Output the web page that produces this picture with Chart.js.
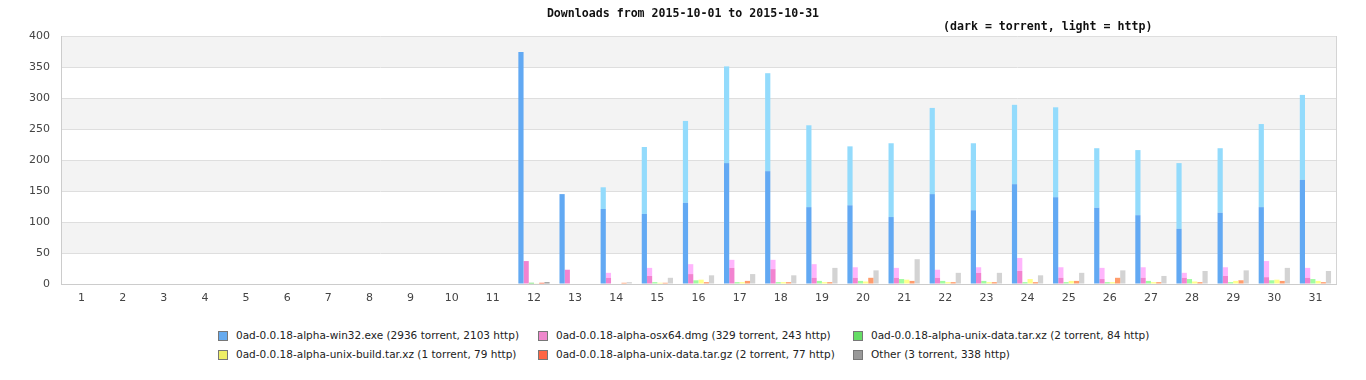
<!DOCTYPE html>
<html>
<head>
<meta charset="utf-8">
<script src="https://cdn.jsdelivr.net/npm/chart.js@4/dist/chart.umd.min.js"></script>
<style>
  html, body { margin: 0; padding: 0; background: #fff; }
  #wrap { position: relative; width: 1366px; height: 380px; overflow: hidden; }
  #c { position: absolute; left: 0; top: 0; }
  .ttl { position: absolute; font-family: "DejaVu Sans Mono", monospace; font-weight: bold; font-size: 11.6px; color: #111; white-space: nowrap; line-height: 14px; }
  .leg { position: absolute; font-family: "DejaVu Sans", sans-serif; font-size: 10.5px; color: #222; white-space: nowrap; line-height: 13px; }
  .leg .box { position: absolute; left: 0; top: 2px; width: 8px; height: 8px; border: 1px solid #777; }
  .leg .txt { position: absolute; left: 18px; top: 0; }
</style>
</head>
<body>
<div id="wrap">
  <canvas id="c" width="1366" height="312"></canvas>
  <div class="ttl" id="title" style="left:0;width:1366px;text-align:center;top:6px;"></div>
  <div class="ttl" id="subtitle" style="left:943px;top:19px;"></div>
  <div id="legend"></div>
</div>
<script>
const titleText = "Downloads from 2015-10-01 to 2015-10-31";
const subtitleText = "(dark = torrent, light = http)";

const days = ["1","2","3","4","5","6","7","8","9","10","11","12","13","14","15","16","17","18","19","20","21","22","23","24","25","26","27","28","29","30","31"];
const yTicks = [0, 50, 100, 150, 200, 250, 300, 350, 400];

const seriesNames = [
  "0ad-0.0.18-alpha-win32.exe (2936 torrent, 2103 http)",
  "0ad-0.0.18-alpha-osx64.dmg (329 torrent, 243 http)",
  "0ad-0.0.18-alpha-unix-data.tar.xz (2 torrent, 84 http)",
  "0ad-0.0.18-alpha-unix-build.tar.xz (1 torrent, 79 http)",
  "0ad-0.0.18-alpha-unix-data.tar.gz (2 torrent, 77 http)",
  "Other (3 torrent, 338 http)"
];

// days 1..31
const win32Torrent = [0,0,0,0,0,0,0,0,0,0,0, 374,145,121,113,131,195,182,124,127,108,145,119,161,140,123,111,89,115,124,168];
const win32Http    = [0,0,0,0,0,0,0,0,0,0,0, 0,0,35,108,132,156,158,132,95,119,139,108,128,145,96,105,106,104,134,137];
const osxTorrent   = [0,0,0,0,0,0,0,0,0,0,0, 37,23,10,13,16,26,24,10,10,10,10,18,21,10,8,10,10,13,11,10];
const osxHttp      = [0,0,0,0,0,0,0,0,0,0,0, 0,0,8,13,16,13,15,22,17,16,13,9,21,17,18,17,8,14,26,16];
const dataXzTorrent= [0,0,0,0,0,0,0,0,0,0,0, 2,0,0,0,0,0,0,0,0,0,0,0,0,0,0,0,0,0,0,0];
const dataXzHttp   = [0,0,0,0,0,0,0,0,0,0,0, 0,0,0,3,6,3,3,5,5,8,5,5,3,3,3,5,8,3,6,8];
const buildTorrent = [0,0,0,0,0,0,0,0,0,0,0, 1,0,0,0,0,0,0,0,0,0,0,0,0,0,0,0,0,0,0,0];
const buildHttp    = [0,0,0,0,0,0,0,0,0,0,0, 0,0,0,2,7,3,3,3,4,7,3,3,8,5,3,3,4,5,7,5];
const dataGzTorrent= [0,0,0,0,0,0,0,0,0,0,0, 2,0,0,0,0,0,0,0,0,0,0,0,0,0,0,0,0,0,0,0];
const dataGzHttp   = [0,0,0,0,0,0,0,0,0,0,0, 0,0,2,2,3,5,3,3,10,5,3,3,3,5,10,3,3,6,5,3];
const otherTorrent = [0,0,0,0,0,0,0,0,0,0,0, 3,0,0,0,0,0,0,0,0,0,0,0,0,0,0,0,0,0,0,0];
const otherHttp    = [0,0,0,0,0,0,0,0,0,0,0, 0,0,3,10,14,16,14,26,22,40,18,18,14,18,22,13,21,22,26,21];

const darkColors  = ["#62a9f3", "#f283d0", "#66dd66", "#e0e050", "#ff6a44", "#999999"];
const lightColors = ["#93dbfc", "#ffb5fc", "#a0fca0", "#ffff8c", "#ff9c6c", "#d3d3d3"];
const legendColors= ["#66aaee", "#ee88cc", "#66dd66", "#eeee66", "#ff6644", "#999999"];

const torrentSeries = [win32Torrent, osxTorrent, dataXzTorrent, buildTorrent, dataGzTorrent, otherTorrent];
const httpSeries    = [win32Http, osxHttp, dataXzHttp, buildHttp, dataGzHttp, otherHttp];

document.getElementById("title").textContent = titleText;
document.getElementById("subtitle").textContent = subtitleText;

// HTML legend (3 columns x 2 rows)
const legCols = [218, 538, 853];
const legRows = [329, 348];
const legend = document.getElementById("legend");
seriesNames.forEach((name, i) => {
  const d = document.createElement("div");
  d.className = "leg";
  d.style.left = legCols[i % 3] + "px";
  d.style.top = legRows[Math.floor(i / 3)] + "px";
  const b = document.createElement("div");
  b.className = "box";
  b.style.background = legendColors[i];
  const t = document.createElement("span");
  t.className = "txt";
  t.textContent = name;
  d.appendChild(b); d.appendChild(t);
  legend.appendChild(d);
});

const datasets = [];
seriesNames.forEach((name, i) => {
  datasets.push({ label: name + " torrent", data: torrentSeries[i], backgroundColor: darkColors[i], stack: "s" + i, borderWidth: 0 });
  datasets.push({ label: name + " http", data: httpSeries[i], backgroundColor: lightColors[i], stack: "s" + i, borderWidth: 0 });
});

const bandsPlugin = {
  id: "bands",
  beforeDraw(chart) {
    const { ctx, chartArea: a, scales: { y } } = chart;
    ctx.save();
    for (let i = 0; i < yTicks.length - 1; i++) {
      if ((yTicks.length - 2 - i) % 2 === 0) {
        const top = y.getPixelForValue(yTicks[i + 1]);
        const bot = y.getPixelForValue(yTicks[i]);
        ctx.fillStyle = "#f3f3f3";
        ctx.fillRect(a.left, top, a.right - a.left, bot - top);
      }
    }
    ctx.strokeStyle = "#d4d4d4";
    ctx.lineWidth = 1;
    ctx.beginPath();
    ctx.moveTo(a.right + 0.5, a.top);
    ctx.lineTo(a.right + 0.5, a.bottom);
    ctx.stroke();
    ctx.restore();
  }
};

new Chart(document.getElementById("c"), {
  type: "bar",
  data: { labels: days, datasets },
  plugins: [bandsPlugin],
  options: {
    responsive: false,
    animation: false,
    layout: { padding: { top: 36, right: 30, left: 0, bottom: 0 } },
    plugins: { legend: { display: false }, tooltip: { enabled: false }, title: { display: false } },
    datasets: { bar: { categoryPercentage: 0.76, barPercentage: 1.0 } },
    scales: {
      x: {
        stacked: true,
        grid: { display: false, drawTicks: false },
        border: { display: true, color: "#cccccc" },
        ticks: { color: "#444", font: { family: "DejaVu Sans", size: 11 }, padding: 8, autoSkip: false, maxRotation: 0 },
        afterFit(s) { s.height = 28; }
      },
      y: {
        stacked: true,
        min: 0, max: 400,
        grid: { color: "#dedede", drawTicks: false },
        border: { display: true, color: "#cccccc" },
        ticks: { stepSize: 50, color: "#444", font: { family: "DejaVu Sans", size: 11 }, padding: 11 },
        afterFit(s) { s.width = 61; }
      }
    }
  }
});
</script>
</body>
</html>
